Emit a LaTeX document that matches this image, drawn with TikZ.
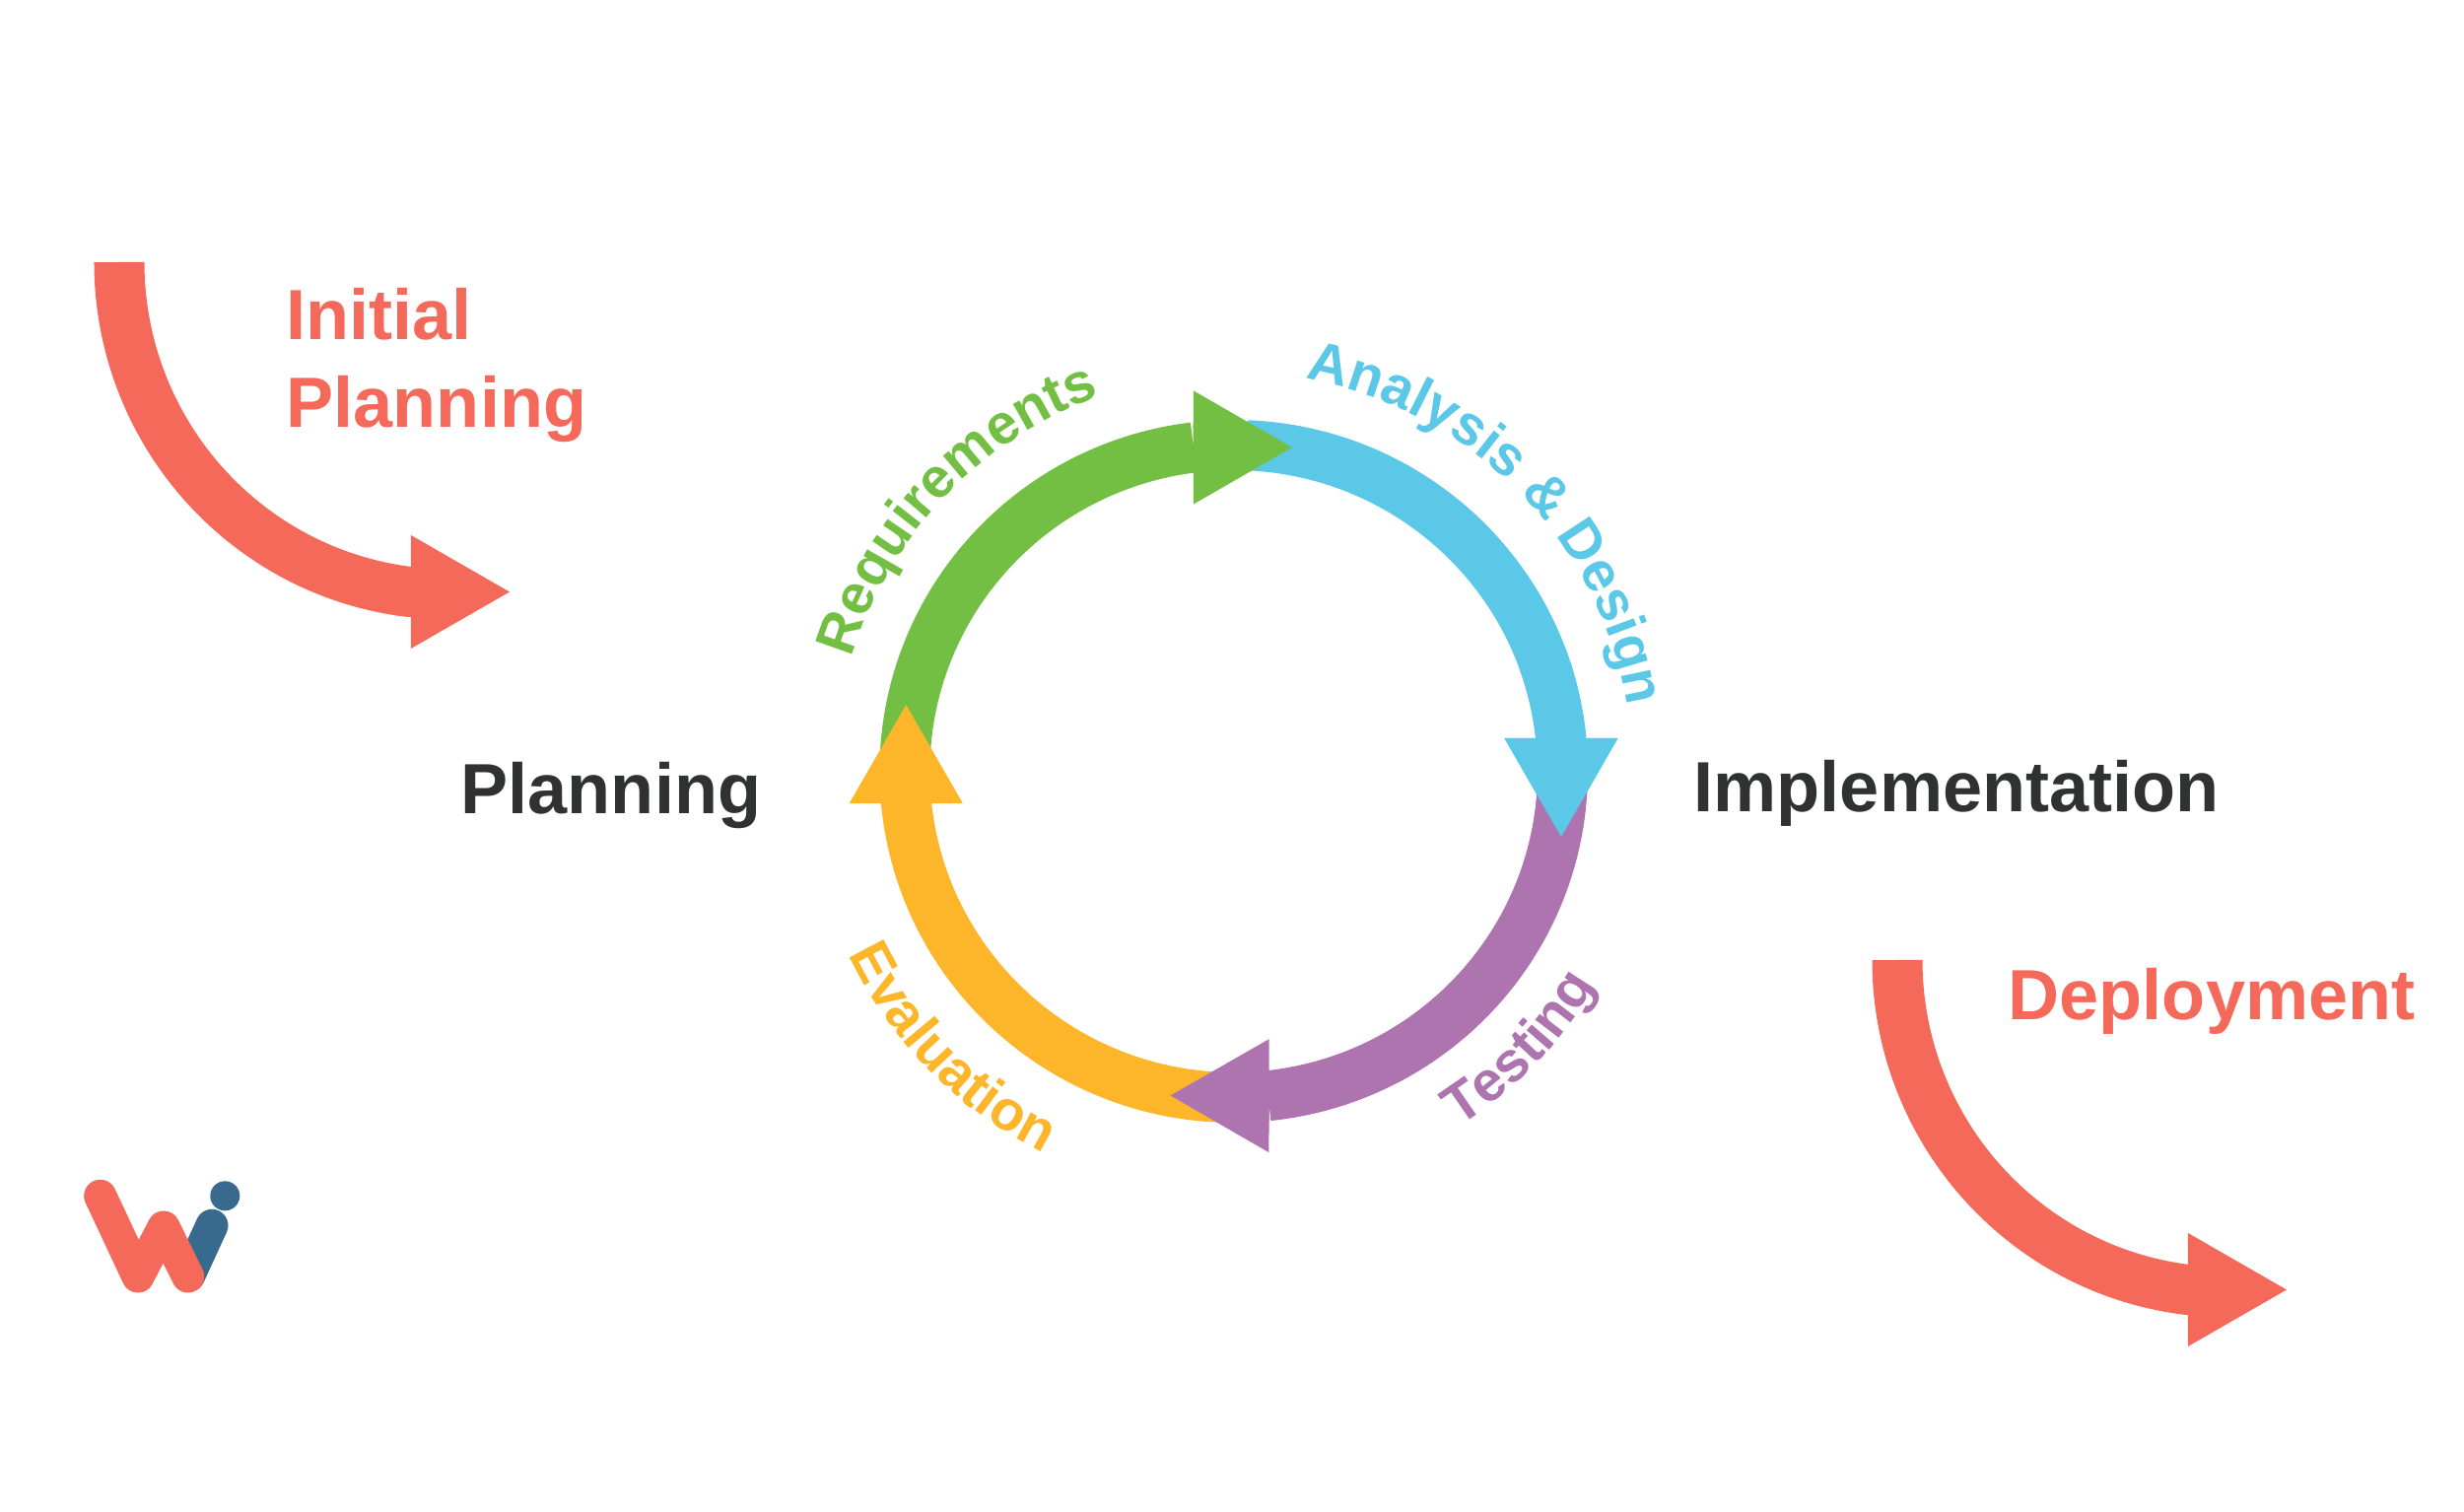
\documentclass[tikz,border=0pt]{standalone}
\usepackage{fontspec}
\setmainfont{Liberation Sans}
\usetikzlibrary{arrows.meta,decorations.text}
\definecolor{coral}{RGB}{244,105,90}
\definecolor{ink}{RGB}{47,50,48}
\definecolor{reqgreen}{RGB}{114,191,68}
\definecolor{skyblue}{RGB}{91,200,232}
\definecolor{testpurple}{RGB}{174,116,176}
\definecolor{evalyellow}{RGB}{253,182,42}
\definecolor{logoblue}{RGB}{55,106,140}
\newcommand{\curvefont}{\fontsize{16.2}{16.2}\selectfont\bfseries}

\begin{document}
\begin{tikzpicture}[x=0.01cm,y=0.01cm,
  band/.style={line width=0.51cm,-{Triangle[length=1cm,width=1.15cm,line width=0pt]}},
  phase/.style={font=\fontsize{20.5}{25.3}\selectfont\bfseries,inner sep=0pt,anchor=base west},
  curved/.style={decorate,decoration={text along path,text align=center,text color=#1}},
  logostroke/.style={line width=0.33cm,line cap=round,line join=round}]
  \useasboundingbox (0,0) rectangle (2500,1533);
  \coordinate (hub) at (1251.7,750.5);
  \coordinate (reqtip) at (1311,1079);
  \coordinate (anatip) at (1584,684);
  \coordinate (testtip) at (1187.5,421.5);
  \coordinate (evaltip) at (919.3,818);
  \coordinate (initstart) at (121,1267);
  \coordinate (inittip) at (517,932.5);
  \coordinate (depstart) at (1925,559);
  \coordinate (deptip) at (2320,224.5);

  \draw[band,color=skyblue] ([shift={(87.7:333.8 and 331)}]hub) arc[start angle=87.7,end angle=5.5,x radius=333.8,y radius=331] -- (anatip);
  \draw[band,color=reqgreen] ([shift={(177.9:333.8 and 331)}]hub) arc[start angle=177.9,end angle=97,x radius=333.8,y radius=331] -- (reqtip);
  \draw[band,color=evalyellow] ([shift={(267.5:333.8 and 331)}]hub) arc[start angle=267.5,end angle=185.2,x radius=333.8,y radius=331] -- (evaltip);
  \draw[band,color=testpurple] ([shift={(-2.5:333.8 and 331)}]hub) arc[start angle=-2.5,end angle=-84,x radius=333.8,y radius=331] -- (testtip);
  \draw[band,color=skyblue] ([shift={(20:333.8 and 331)}]hub) arc[start angle=20,end angle=5.5,x radius=333.8,y radius=331] -- (anatip);

  \draw[band,color=coral] (initstart) arc[start angle=180,end angle=263,x radius=335,y radius=337] -- (inittip);
  \draw[band,color=coral] (depstart) arc[start angle=180,end angle=263,x radius=335,y radius=337] -- (deptip);

  \node[phase,text=coral,align=left,anchor=north west] (initial) at (290,1241) {Initial\\Planning};
  \node[phase,text=ink] (planning) at (467,707) {Planning};
  \node[phase,text=ink] (impl) at (1718,709) {Implementation};
  \node[phase,text=coral] (deploy) at (2037,498) {Deployment};

  \path[curved=reqgreen,decoration={text={|\curvefont|Requirements}}] ([shift={(164:404)}]hub) arc[start angle=164,end angle=109,radius=404];
  \path[curved=skyblue,decoration={text={|\curvefont|Analysis {\&} Design}}] ([shift={(80:405)}]hub) arc[start angle=80,end angle=9,radius=405];
  \path[curved=testpurple,decoration={text={|\curvefont|Testing}}] ([shift={(-58.6:427)}]hub) arc[start angle=-58.6,end angle=-29.6,radius=427];
  \path[curved=evalyellow,decoration={text={|\curvefont|Evaluation}}] ([shift={(204:433)}]hub) arc[start angle=204,end angle=245,radius=433];

  \coordinate (stemtop) at (215,289.7);
  \coordinate (stembot) at (191.7,239);
  \coordinate (wa) at (101.7,319.7);
  \coordinate (wb) at (140,238);
  \coordinate (wc) at (166,288);
  \coordinate (wd) at (190.7,238);
  \coordinate (dot) at (228.3,319.7);
  \draw[logostroke,logoblue] (stemtop) -- (stembot);
  \fill[logoblue] (dot) circle[radius=15];
  \draw[logostroke,coral] (wa) -- (wb) -- (wc) -- (wd);
\end{tikzpicture}
\end{document}
